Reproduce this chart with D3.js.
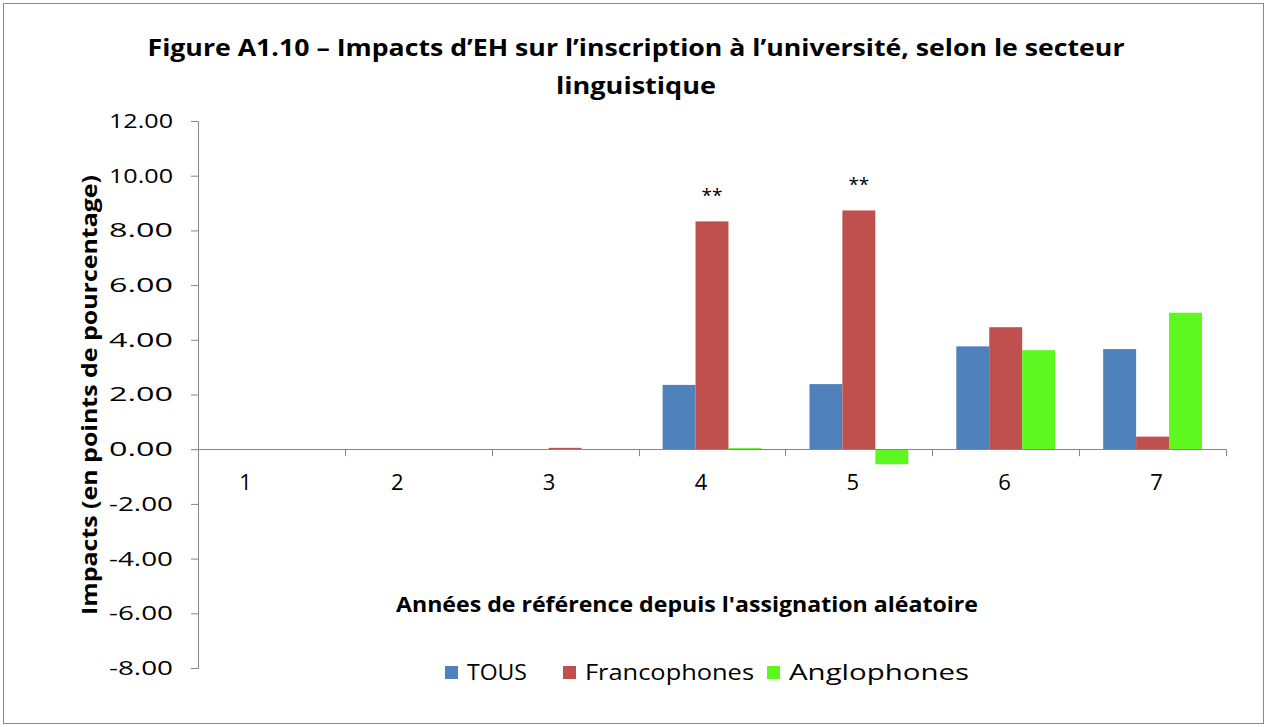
<!DOCTYPE html>
<html lang="fr">
<head>
<meta charset="utf-8">
<title>Figure A1.10</title>
<script src="https://cdn.jsdelivr.net/npm/d3@7"></script>
<style>
  body { margin: 0; background: #fff; }
  text { font-family: "Open Sans", Lato, sans-serif; fill: #000; }
</style>
</head>
<body>
<script>
// data
var categories = ["1", "2", "3", "4", "5", "6", "7"];
var seriesNames = ["TOUS", "Francophones", "Anglophones"];
var tous = [0, 0, -0.03, 2.35, 2.38, 3.76, 3.66];
var franco = [0, 0, 0.05, 8.33, 8.73, 4.46, 0.46];
var anglo = [0, 0, 0, 0.04, -0.55, 3.62, 4.99];
var stars = ["", "", "", "**", "**", "", ""];
var yTicks = [-8, -6, -4, -2, 0, 2, 4, 6, 8, 10, 12];
var colors = ["#4F81BD", "#C0504D", "#5CF820"];

var w = 1267, h = 727;
var margin = { top: 121, right: 41, bottom: 59, left: 198 };

var svg = d3.select("body").append("svg")
  .attr("width", w)
  .attr("height", h);

// outer frame
svg.append("rect")
  .attr("x", 3.5).attr("y", 3.5)
  .attr("width", w - 7).attr("height", h - 7)
  .attr("fill", "#fff")
  .attr("stroke", "#888").attr("stroke-width", 1);

var x = d3.scaleBand()
  .domain(categories)
  .range([margin.left, w - margin.right]);

var x1 = d3.scaleBand()
  .domain(seriesNames)
  .range([0, x.bandwidth()])
  .paddingInner(0)
  .paddingOuter(0.73);

// the category labels sit a bit off the band centres in the original
var xLab = d3.scalePoint()
  .domain(categories)
  .range([245, 1156]);

var y = d3.scaleLinear()
  .domain([-8, 12])
  .range([h - margin.bottom, margin.top]);

var series = [tous, franco, anglo];

// bars
series.forEach(function (vals, si) {
  svg.append("g").selectAll("rect")
    .data(vals)
    .enter().append("rect")
    .attr("x", function (d, i) { return x(categories[i]) + x1(seriesNames[si]); })
    .attr("y", function (d) { return y(Math.max(0, d)); })
    .attr("width", x1.bandwidth())
    .attr("height", function (d) { return Math.abs(y(d) - y(0)); })
    .attr("fill", colors[si]);
});

// significance stars over francophone bars
svg.append("g").selectAll("text")
  .data(franco)
  .enter().append("text")
  .attr("x", function (d, i) { return x(categories[i]) + x1("Francophones") + x1.bandwidth() / 2; })
  .attr("y", function (d) { return y(d) - 19; })
  .attr("text-anchor", "middle")
  .style("font-size", "19px")
  .text(function (d, i) { return stars[i]; });

// y axis, plain hyphen for negatives like the original
var fr = d3.formatLocale({ decimal: ".", thousands: ",", grouping: [3], currency: ["", ""], minus: "-" });
var yAxis = d3.axisLeft(y)
  .tickValues(yTicks)
  .tickFormat(fr.format(".2f"))
  .tickSize(7)
  .tickPadding(18);

var gy = svg.append("g")
  .attr("transform", "translate(" + margin.left + ",0)")
  .call(yAxis);
gy.select(".domain").attr("stroke", "#868686");
gy.selectAll(".tick line").attr("stroke", "#868686");
gy.selectAll(".tick text")
  .style("font-size", "20px")
  .style("font-family", "'Open Sans', sans-serif")
  .attr("textLength", 64)
  .attr("lengthAdjust", "spacingAndGlyphs");

// x axis line at zero
svg.append("line")
  .attr("x1", margin.left).attr("x2", w - margin.right)
  .attr("y1", Math.round(y(0)) + 0.5).attr("y2", Math.round(y(0)) + 0.5)
  .attr("stroke", "#868686");

// category boundary ticks
var bounds = categories.map(function (c) { return x(c) + x.bandwidth(); });
svg.append("g").selectAll("line")
  .data(bounds)
  .enter().append("line")
  .attr("x1", function (d) { return Math.round(d) + 0.5; })
  .attr("x2", function (d) { return Math.round(d) + 0.5; })
  .attr("y1", y(0))
  .attr("y2", y(0) + 7)
  .attr("stroke", "#868686");

// category labels
var xAxis = d3.axisBottom(xLab).tickSize(0).tickPadding(25);
var gx = svg.append("g")
  .attr("transform", "translate(0," + y(0) + ")")
  .call(xAxis);
gx.select(".domain").remove();
gx.selectAll(".tick text").style("font-size", "22px").style("font-family", "'Open Sans', sans-serif");

// title
svg.append("text")
  .attr("x", 636).attr("y", 56)
  .attr("text-anchor", "middle")
  .attr("textLength", 977).attr("lengthAdjust", "spacingAndGlyphs")
  .style("font-size", "24px")
  .style("font-weight", "bold")
  .text("Figure A1.10 – Impacts d’EH sur l’inscription à l’université, selon le secteur");
svg.append("text")
  .attr("x", 636).attr("y", 94)
  .attr("text-anchor", "middle")
  .attr("textLength", 160).attr("lengthAdjust", "spacingAndGlyphs")
  .style("font-size", "24px")
  .style("font-weight", "bold")
  .text("linguistique");

// axis titles
svg.append("text")
  .attr("transform", "translate(97," + 395 + ") rotate(-90)")
  .attr("text-anchor", "middle")
  .attr("textLength", 440).attr("lengthAdjust", "spacingAndGlyphs")
  .style("font-size", "21px")
  .style("font-weight", "bold")
  .text("Impacts (en points de pourcentage)");

svg.append("text")
  .attr("x", 687)
  .attr("y", 612)
  .attr("text-anchor", "middle")
  .attr("textLength", 582).attr("lengthAdjust", "spacingAndGlyphs")
  .style("font-size", "21px")
  .style("font-weight", "bold")
  .text("Années de référence depuis l'assignation aléatoire");

// legend
var legendX = [445, 563, 767];
var legendLen = [60, 169, 180];
var legend = svg.append("g").selectAll("g")
  .data(seriesNames)
  .enter().append("g")
  .attr("transform", function (d, i) { return "translate(" + legendX[i] + ",666)"; });
legend.append("rect")
  .attr("width", 13).attr("height", 13)
  .attr("fill", function (d, i) { return colors[i]; });
legend.append("text")
  .attr("x", 22).attr("y", 14)
  .attr("textLength", function (d, i) { return legendLen[i]; })
  .attr("lengthAdjust", "spacingAndGlyphs")
  .style("font-size", "21px")
  .text(function (d) { return d; });
</script>
</body>
</html>
